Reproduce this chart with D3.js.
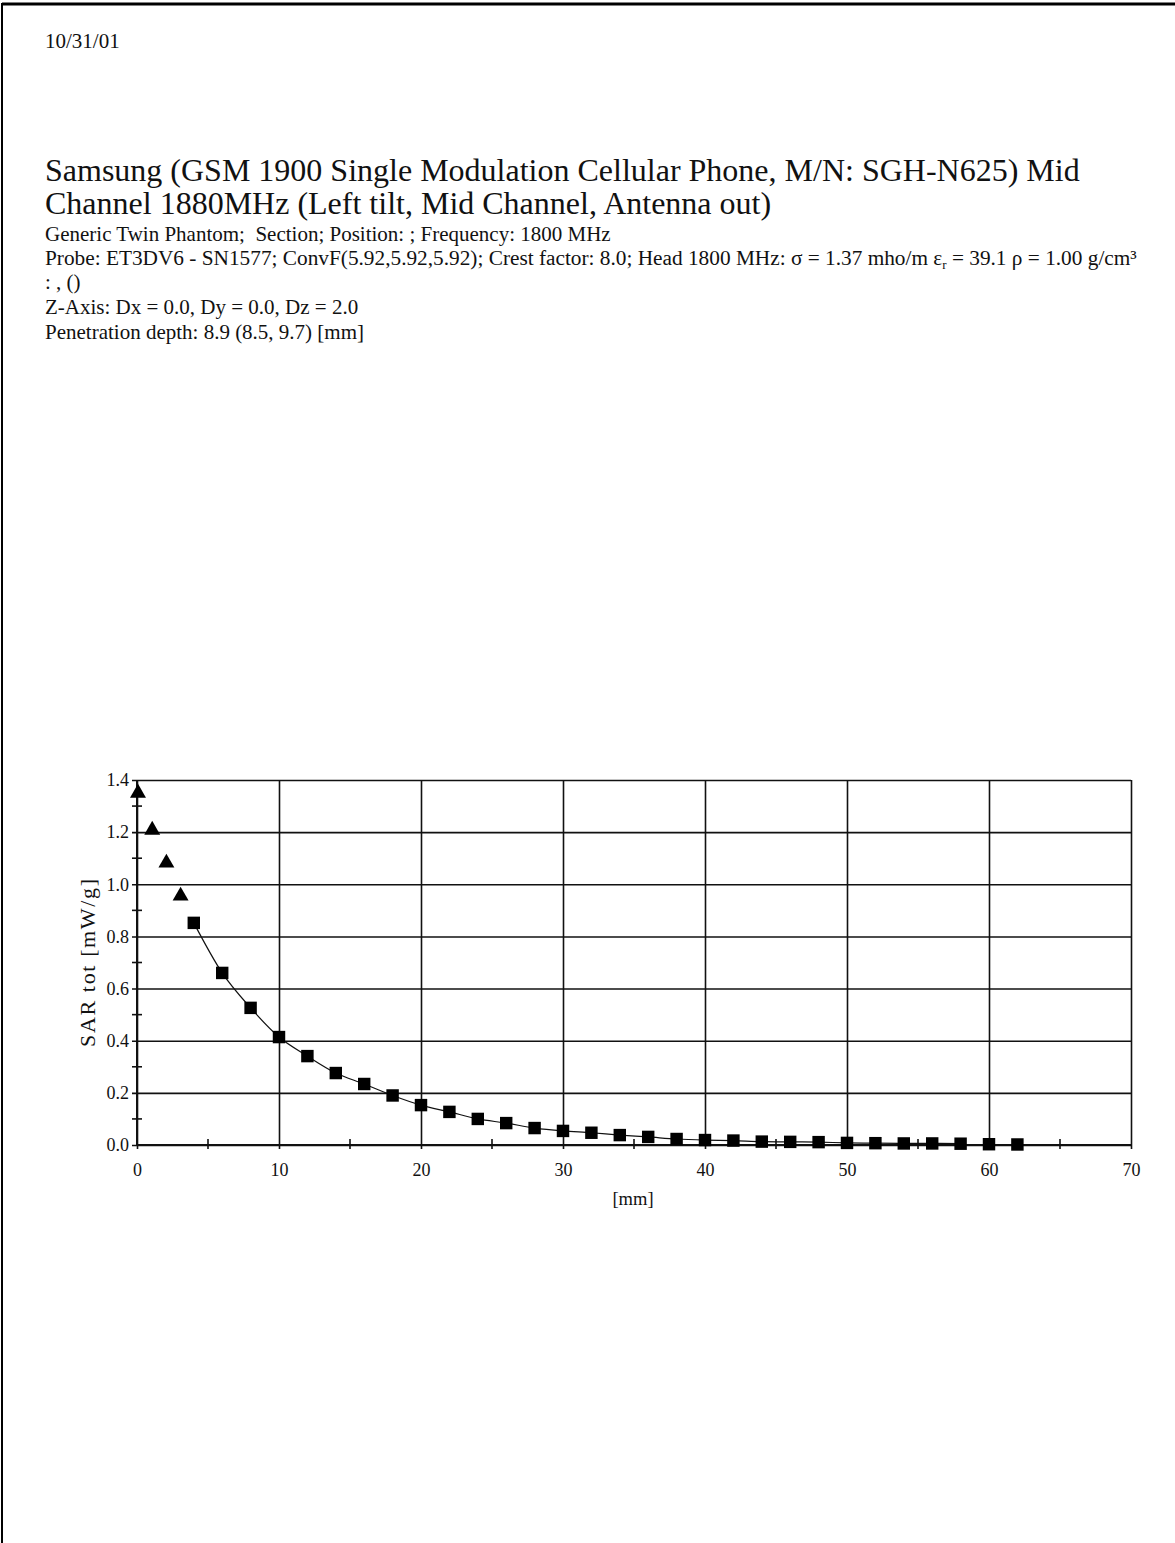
<!DOCTYPE html>
<html><head><meta charset="utf-8">
<script src="https://cdn.jsdelivr.net/npm/d3@7"></script>
<style>
html,body{margin:0;padding:0;background:#fff;}
svg{display:block;}
text{font-family:"Liberation Serif","Times New Roman",serif;fill:#111;white-space:pre;}
</style></head>
<body>
<svg id="page" width="1175" height="1543"></svg>
<script>
// ---- data ----
const headerDate = "10/31/01";
const titleLines = [
  "Samsung (GSM 1900 Single Modulation Cellular Phone, M/N: SGH-N625) Mid",
  "Channel 1880MHz (Left tilt, Mid Channel, Antenna out)"
];
const infoLine1 = "Generic Twin Phantom;  Section; Position: ; Frequency: 1800 MHz";
const infoLine3 = ": , ()";
const infoLine4 = "Z-Axis: Dx = 0.0, Dy = 0.0, Dz = 2.0";
const infoLine5 = "Penetration depth: 8.9 (8.5, 9.7) [mm]";

const triangleX = [0, 1, 2, 3];
const triangleY = [1.350, 1.208, 1.082, 0.955];

const squareX = [4, 6, 8, 10, 12, 14, 16, 18, 20, 22, 24, 26, 28, 30, 32, 34, 36, 38, 40, 42, 44, 46, 48, 50, 52, 54, 56, 58, 60, 62];
const squareY = [0.852, 0.660, 0.526, 0.414, 0.341, 0.276, 0.234, 0.190, 0.153, 0.127, 0.100, 0.084, 0.065, 0.054, 0.047, 0.038, 0.031, 0.023, 0.019, 0.017, 0.013, 0.012, 0.011, 0.008, 0.007, 0.006, 0.006, 0.005, 0.003, 0.002];

const xMajorTicks = [0, 10, 20, 30, 40, 50, 60, 70];
const xMinorTicks = [5, 15, 25, 35, 45, 55, 65];
const yMajorTicks = [0.0, 0.2, 0.4, 0.6, 0.8, 1.0, 1.2, 1.4];
const yMinorTicks = [0.1, 0.3, 0.5, 0.7, 0.9, 1.1, 1.3];
const xAxisTitle = "[mm]";
const yAxisTitle = "SAR tot [mW/g]";

// ---- drawing ----
const svg = d3.select("#page");

// page border (top and left)
svg.append("line").attr("x1", 2).attr("y1", 4).attr("x2", 1175).attr("y2", 4)
  .attr("stroke", "#000").attr("stroke-width", 3);
svg.append("line").attr("x1", 2).attr("y1", 3).attr("x2", 2).attr("y2", 1543)
  .attr("stroke", "#000").attr("stroke-width", 2);

svg.append("text").attr("x", 45).attr("y", 48).attr("font-size", 21).text(headerDate);

svg.selectAll("text.title").data(titleLines).join("text").attr("class", "title")
  .attr("x", 45).attr("y", (d, i) => 181 + i * 33).attr("font-size", 32).text(d => d);

const info = svg.append("g").attr("font-size", 21);
info.append("text").attr("x", 45).attr("y", 241).text(infoLine1);
const probe = info.append("text").attr("x", 45).attr("y", 265).attr("font-size", 21.3);
probe.append("tspan").text("Probe: ET3DV6 - SN1577; ConvF(5.92,5.92,5.92); Crest factor: 8.0; Head 1800 MHz: σ = 1.37 mho/m ε");
probe.append("tspan").attr("font-size", 13).attr("dy", 4).text("r");
probe.append("tspan").attr("dy", -4).text(" = 39.1 ρ = 1.00 g/cm³");
info.append("text").attr("x", 45).attr("y", 289).text(infoLine3);
info.append("text").attr("x", 45).attr("y", 314).text(infoLine4);
info.append("text").attr("x", 45).attr("y", 339).text(infoLine5);

// chart
const X0 = 137, X1 = 1131, Y0 = 1145, Y1 = 780;
const x = d3.scaleLinear().domain([0, 70]).range([X0, X1]);
const y = d3.scaleLinear().domain([0, 1.4]).range([Y0, Y1]);

const chart = svg.append("g");

// vertical grid via axis
const gx = chart.append("g").attr("transform", `translate(0,${Y0})`)
  .call(d3.axisBottom(x).tickValues(xMajorTicks).tickSize(-(Y0 - Y1)).tickSizeOuter(0).tickFormat(d3.format("d")));
gx.select(".domain").remove();
gx.selectAll(".tick line").attr("stroke", "#111").attr("stroke-width", 1.6).attr("y2", -(Y0 - Y1)).attr("y1", 4);
gx.selectAll(".tick text").attr("font-size", 18).attr("fill", "#333").attr("y", 13).attr("dy", "1.0em")
  .style("font-family", "'Liberation Serif',serif");

// horizontal grid via axis
const gy = chart.append("g").attr("transform", `translate(${X0},0)`)
  .call(d3.axisLeft(y).tickValues(yMajorTicks).tickSize(-(X1 - X0)).tickSizeOuter(0).tickFormat(d3.format(".1f")));
gy.select(".domain").remove();
gy.selectAll(".tick line").attr("stroke", "#111").attr("stroke-width", 1.6).attr("x1", -5);
gy.selectAll(".tick text").attr("font-size", 18).attr("fill", "#333").attr("x", -8)
  .style("font-family", "'Liberation Serif',serif");

// minor ticks
chart.selectAll("line.xminor").data(xMinorTicks).join("line").attr("class", "xminor")
  .attr("x1", d => x(d)).attr("x2", d => x(d)).attr("y1", Y0 - 6).attr("y2", Y0 + 4)
  .attr("stroke", "#111").attr("stroke-width", 1.6);
chart.selectAll("line.yminor").data(yMinorTicks).join("line").attr("class", "yminor")
  .attr("x1", X0 - 5).attr("x2", X0 + 5).attr("y1", d => y(d)).attr("y2", d => y(d))
  .attr("stroke", "#111").attr("stroke-width", 1.6);

// axis lines
chart.append("line").attr("x1", X0).attr("x2", X0).attr("y1", Y1).attr("y2", Y0)
  .attr("stroke", "#111").attr("stroke-width", 2);
chart.append("line").attr("x1", X0).attr("x2", X1).attr("y1", Y0).attr("y2", Y0)
  .attr("stroke", "#111").attr("stroke-width", 2);

// fit curve through squares
const sq = squareX.map((d, i) => ({x: d, y: squareY[i]}));
const fitPts = sq.filter(d => d.x <= 58);
chart.append("path").datum(fitPts)
  .attr("d", d3.line().x(d => x(d.x)).y(d => y(d.y)).curve(d3.curveMonotoneX))
  .attr("fill", "none").attr("stroke", "#111").attr("stroke-width", 1.2);

// markers
chart.selectAll("path.sq").data(sq).join("path").attr("class", "sq")
  .attr("d", d3.symbol().type(d3.symbolSquare).size(155))
  .attr("transform", d => `translate(${x(d.x)},${y(d.y)})`).attr("fill", "#000");
const tri = triangleX.map((d, i) => ({x: d, y: triangleY[i]}));
chart.selectAll("path.tri").data(tri).join("path").attr("class", "tri")
  .attr("d", d3.symbol().type(d3.symbolTriangle).size(110))
  .attr("transform", d => `translate(${x(d.x) + 1},${y(d.y)})`).attr("fill", "#000");

// axis titles
chart.append("text").attr("x", 633).attr("y", 1205).attr("text-anchor", "middle")
  .attr("font-size", 18.5).attr("fill", "#333").text(xAxisTitle);
chart.append("text").attr("transform", `translate(95,963) rotate(-90)`)
  .attr("text-anchor", "middle").attr("font-size", 22).attr("fill", "#333")
  .attr("textLength", 168).attr("lengthAdjust", "spacing").text(yAxisTitle);
</script>
</body></html>
